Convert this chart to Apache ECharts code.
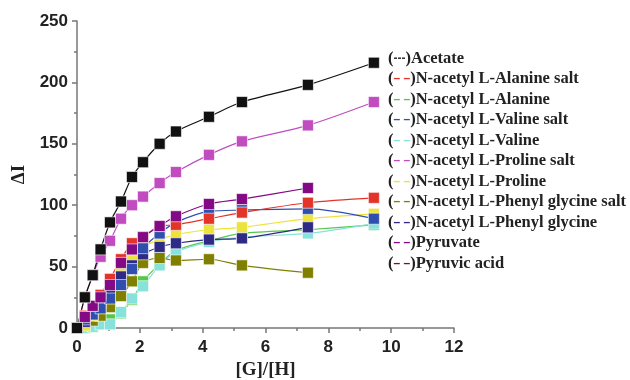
<!DOCTYPE html>
<html>
<head>
<meta charset="UTF-8">
<script src="https://cdn.jsdelivr.net/npm/echarts@6/dist/echarts.min.js"></script>
<style>
  html, body { margin: 0; padding: 0; background: #fff; }
  #chart { width: 630px; height: 380px; }
</style>
</head>
<body>
<div id="chart"></div>
<script>
    // [G]/[H] ratios shared by every titration
    let ratios = [0, 0.25, 0.5, 0.75, 1.05, 1.4, 1.75, 2.1, 2.63, 3.15, 4.2, 5.25, 7.35, 9.45];

    let names = ['Acetate', 'N-acetyl L-Alanine salt', 'N-acetyl L-Alanine', 'N-acetyl L-Valine salt',
        'N-acetyl L-Valine', 'N-acetyl L-Proline salt', 'N-acetyl L-Proline',
        'N-acetyl L-Phenyl glycine salt', 'N-acetyl L-Phenyl glycine', 'Pyruvate', 'Pyruvic acid'];
    let colors = ['#111111', '#e3342a', '#55c84a', '#2f4fae', '#86e2da', '#c04cc0', '#ece33c',
        '#808000', '#2e2a86', '#830a84', '#7a1410'];

    // ΔI values
    let acetate        = [0, 25, 43, 64, 86, 103, 123, 135, 150, 160, 172, 184, 198, 216];
    let alanineSalt    = [0, 10, 18, 27, 40, 56, 69, 74, 83, 84, 89, 94, 102, 106];
    let alanine        = [0, 0, 1, 3, 7, 12, 23, 38, 52, 63, 71, 77, 80, 84];
    let valineSalt     = [0, 7, 11, 16, 24, 35, 48, 65, 77, 86, 95, 96, 97, 89];
    let valine         = [0, 0, 1, 3, 3, 13, 24, 34, 51, 62, 70, 74, 77, 85];
    let prolineSalt    = [0, 25, 43, 58, 71, 89, 100, 107, 118, 127, 141, 152, 165, 184];
    let proline        = [0, 2, 10, 17, 27, 45, 57, 66, 72, 76, 80, 82, 89, 93];
    let phenylGlySalt  = [0, 3, 6, 10, 17, 26, 38, 53, 57, 55, 56, 51, 45];
    let phenylGly      = [0, 5, 13, 20, 28, 42, 51, 60, 66, 69, 72, 73, 82];
    let pyruvate       = [0, 9, 18, 25, 35, 53, 64, 74, 83, 91, 101, 105, 114];
    let pyruvicAcid    = [];

    let allData = [acetate, alanineSalt, alanine, valineSalt, valine, prolineSalt, proline,
        phenylGlySalt, phenylGly, pyruvate, pyruvicAcid];

    // drawing order: back to front as in the picture
    let drawOrder = [10, 2, 4, 7, 6, 8, 3, 1, 9, 5, 0];

    let rich = { p: { fontFamily: 'Liberation Serif', fontWeight: 'bold', fontSize: 16.5, color: '#222' } };
    colors.forEach(function (c, i) {
        rich['c' + i] = { fontFamily: 'Liberation Sans', fontWeight: 'bold', fontSize: 12, color: i === 0 ? '#333' : c };
    });

    let series = drawOrder.map(function (i) {
        return {
            name: names[i],
            type: 'line',
            smooth: 0.3,
            symbol: 'rect',
            symbolSize: 11,
            showSymbol: true,
            data: allData[i].map(function (v, k) { return [ratios[k], v]; }),
            lineStyle: { color: colors[i], width: 1.2 },
            itemStyle: { color: colors[i], borderColor: 'rgba(255,255,255,0.6)', borderWidth: 1 },
            emphasis: { disabled: true },
            z: 2
        };
    });

    let axisText = { fontFamily: 'Liberation Sans', fontWeight: 'bold', fontSize: 17, color: '#222' };

    let option = {
        animation: false,
        grid: { left: 77, right: 176, top: 21, bottom: 52, outerBoundsMode: 'none', containLabel: false },
        legend: {
            orient: 'vertical',
            left: 377,
            top: 45,
            itemWidth: 0,
            itemHeight: 0,
            itemGap: 3.5,
            icon: 'rect',
            data: names,
            selectedMode: false,
            formatter: function (name) {
                let i = names.indexOf(name);
                let dash = i === 0 ? '---' : '– –';
                return '{p|(}{c' + i + '|' + dash + '}{p|)' + name + '}';
            },
            textStyle: { rich: rich }
        },
        xAxis: {
            type: 'value',
            min: 0, max: 12, interval: 2,
            name: '[G]/[H]',
            nameLocation: 'middle',
            nameGap: 31,
            nameTextStyle: { fontFamily: 'Liberation Serif', fontWeight: 'bold', fontSize: 19, color: '#222' },
            axisLine: { show: true, lineStyle: { color: '#777', width: 1.5 } },
            axisTick: { show: true, length: 5, lineStyle: { color: '#777', width: 1.5 } },
            minorTick: { show: true, splitNumber: 2, length: 3, lineStyle: { color: '#777', width: 1.5 } },
            axisLabel: Object.assign({ margin: 11 }, axisText),
            splitLine: { show: false }
        },
        yAxis: {
            type: 'value',
            min: 0, max: 250, interval: 50,
            name: 'ΔI',
            nameLocation: 'middle',
            nameGap: 43,
            nameRotate: 90,
            nameTextStyle: { fontFamily: 'Liberation Serif', fontWeight: 'bold', fontSize: 19, color: '#222' },
            axisLine: { show: true, lineStyle: { color: '#777', width: 1.5 } },
            axisTick: { show: true, length: 5, lineStyle: { color: '#777', width: 1.5 } },
            minorTick: { show: true, splitNumber: 2, length: 3, lineStyle: { color: '#777', width: 1.5 } },
            axisLabel: Object.assign({ margin: 9 }, axisText),
            splitLine: { show: false }
        },
        series: series
    };

    let myChart = echarts.init(document.getElementById('chart'));
    myChart.setOption(option);
</script>
</body>
</html>
